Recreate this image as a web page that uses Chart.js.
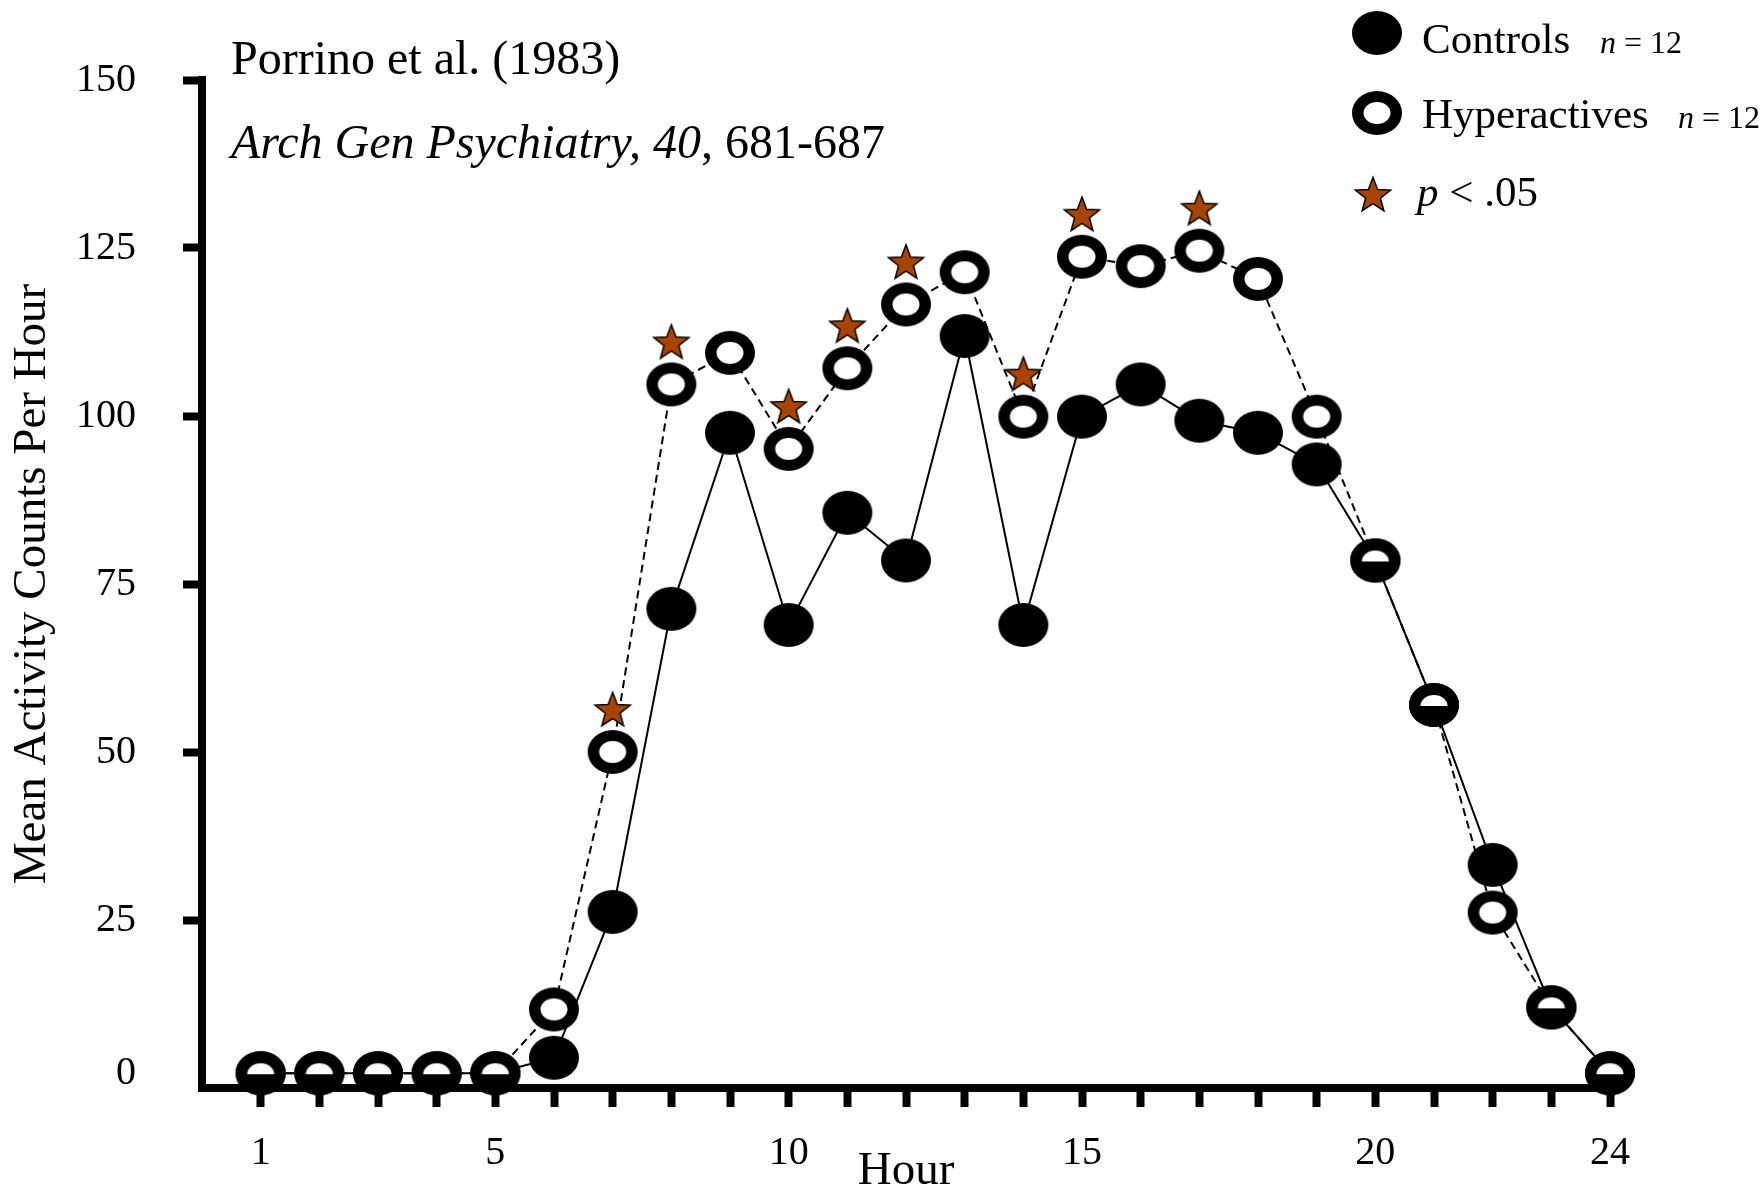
<!DOCTYPE html>
<html>
<head>
<meta charset="utf-8">
<script src="https://cdn.jsdelivr.net/npm/chart.js@4/dist/chart.umd.min.js"></script>
<style>
  html, body { margin: 0; padding: 0; background: #fff; }
  #wrap { width: 1764px; height: 1195px; position: relative; }
</style>
</head>
<body>
<div id="wrap"><canvas id="activity"></canvas></div>
<script>
// Hour of day (1..24)
const hours = [1, 2, 3, 4, 5, 6, 7, 8, 9, 10, 11, 12, 13, 14, 15, 16, 17, 18, 19, 20, 21, 22, 23, 24];
// Mean activity counts per hour, control boys
const controls = [2.2, 2.2, 2.2, 2.2, 2.2, 4.5, 26.2, 71.3, 97.5, 68.9, 85.6, 78.5, 111.9, 68.9, 99.9, 104.7, 99.3, 97.5, 92.8, 78.5, 57.0, 33.2, 12.0, 2.2];
// Mean activity counts per hour, hyperactive boys
const hyperactives = [2.2, 2.2, 2.2, 2.2, 2.2, 11.7, 50.0, 104.7, 109.4, 95.1, 107.1, 116.6, 121.4, 99.9, 123.7, 122.3, 124.6, 120.4, 99.9, 78.5, 57.0, 26.1, 12.0, 2.2];
// Hours where the group difference is significant (p < .05)
const significantHours = [7, 8, 10, 11, 12, 14, 15, 17];
// Labelled hours on the x axis
const xTickLabels = [1, 5, 10, 15, 20, 24];
// y axis range and step
const yMin = 0, yMax = 150, yStep = 25;

const SERIF = 'Liberation Serif';
const STAR_FILL = '#a94400';

function makeCanvas(w, h) {
  const c = document.createElement('canvas');
  c.width = w; c.height = h;
  return c;
}

// Filled ellipse marker
function dotMarker() {
  const c = makeCanvas(52, 46), g = c.getContext('2d');
  g.fillStyle = '#000';
  g.beginPath(); g.ellipse(26, 23, 25, 22, 0, 0, Math.PI * 2); g.fill();
  return c;
}

// Thick ring marker; when a dot sits underneath, only the upper half of the hole stays white
function ringMarker(halfHole) {
  const c = makeCanvas(52, 46), g = c.getContext('2d');
  g.fillStyle = '#000';
  g.beginPath(); g.ellipse(26, 23, 25, 22, 0, 0, Math.PI * 2); g.fill();
  g.fillStyle = '#fff';
  g.beginPath();
  if (halfHole) {
    g.ellipse(26, 24, 13.5, 11, 0, Math.PI, Math.PI * 2);
    g.closePath();
  } else {
    g.ellipse(26, 23, 13.5, 11, 0, 0, Math.PI * 2);
  }
  g.fill();
  return c;
}

function starPath(g, cx, cy, R, r) {
  g.beginPath();
  for (let i = 0; i < 10; i++) {
    const a = -Math.PI / 2 + i * Math.PI / 5;
    const rad = i % 2 === 0 ? R : r;
    const px = cx + rad * Math.cos(a), py = cy + rad * Math.sin(a);
    if (i === 0) g.moveTo(px, py); else g.lineTo(px, py);
  }
  g.closePath();
}

// Star marker; `lift` raises the star above the point it belongs to
function starMarker(lift) {
  const R = 18.5, r = 7.8;
  const h = 2 * (lift + 22), w = 42;
  const c = makeCanvas(w, h), g = c.getContext('2d');
  const cy = h / 2 - lift + 0.0955 * R;
  starPath(g, w / 2, cy, R, r);
  g.fillStyle = STAR_FILL; g.fill();
  g.lineWidth = 1.5; g.strokeStyle = '#000'; g.lineJoin = 'miter'; g.stroke();
  return c;
}

const dot = dotMarker();
const ring = ringMarker(false);
const ringHalf = ringMarker(true);
const starAbove = starMarker(43);
const starPlain = starMarker(0);

const controlPts = hours.map((h, i) => ({ x: h, y: controls[i] }));
const hyperPts = hours.map((h, i) => ({ x: h, y: hyperactives[i] }));
const starPts = significantHours.map(h => ({ x: h, y: hyperactives[hours.indexOf(h)] }));
const hyperStyles = hyperactives.map((v, i) => (v === controls[i] ? ringHalf : ring));

// Text runs with mixed italic/regular pieces
function drawRuns(ctx, x, y, runs) {
  let cx = x;
  runs.forEach(run => {
    ctx.font = (run.italic ? 'italic ' : '') + run.size + 'px "' + SERIF + '"';
    ctx.fillText(run.text, cx, y);
    cx += ctx.measureText(run.text).width;
  });
}

const captionAndKey = {
  id: 'captionAndKey',
  afterDraw(chart) {
    const ctx = chart.ctx;
    ctx.save();
    ctx.fillStyle = '#000';
    ctx.textAlign = 'left';
    ctx.textBaseline = 'alphabetic';

    drawRuns(ctx, 231, 74, [{ text: 'Porrino et al. (1983)', size: 48 }]);
    drawRuns(ctx, 231, 158, [
      { text: 'Arch Gen Psychiatry, 40', size: 48, italic: true },
      { text: ', 681-687', size: 48 }
    ]);

    ctx.drawImage(dot, 1377 - dot.width / 2, 33 - dot.height / 2);
    drawRuns(ctx, 1422, 53, [{ text: 'Controls', size: 43 }]);
    drawRuns(ctx, 1600, 53, [{ text: 'n', size: 32, italic: true }, { text: ' = 12', size: 32 }]);

    ctx.drawImage(ring, 1377 - ring.width / 2, 113 - ring.height / 2);
    drawRuns(ctx, 1422, 128, [{ text: 'Hyperactives', size: 43 }]);
    drawRuns(ctx, 1678, 128, [{ text: 'n', size: 32, italic: true }, { text: ' = 12', size: 32 }]);

    ctx.drawImage(starPlain, 1373 - starPlain.width / 2, 194 - starPlain.height / 2);
    drawRuns(ctx, 1417, 206, [{ text: 'p', size: 43, italic: true }, { text: ' < .05', size: 43 }]);
    ctx.restore();
  }
};

const hiddenAtZero = c => (c.tick && c.tick.value === 0 ? 'rgba(0,0,0,0)' : '#000');

new Chart(document.getElementById('activity'), {
  type: 'line',
  data: {
    datasets: [
      { label: 'p < .05', data: starPts, showLine: false, pointStyle: starAbove, pointRadius: 20, order: 0, clip: false },
      { label: 'Hyperactives', data: hyperPts, showLine: false, pointStyle: hyperStyles, pointRadius: 22, order: 1, clip: false },
      { label: 'Controls', data: controlPts, showLine: false, pointStyle: dot, pointRadius: 22, order: 2, clip: false },
      { label: 'Hyperactives line', data: hyperPts, borderColor: '#000', borderWidth: 2, borderDash: [8, 5], pointRadius: 0, tension: 0, fill: false, order: 3, clip: false },
      { label: 'Controls line', data: controlPts, borderColor: '#000', borderWidth: 2, pointRadius: 0, tension: 0, fill: false, order: 4, clip: false }
    ]
  },
  options: {
    responsive: true,
    maintainAspectRatio: false,
    animation: false,
    events: [],
    layout: { padding: { top: 80, right: 154, bottom: 0, left: 0 } },
    plugins: { legend: { display: false }, tooltip: { enabled: false } },
    scales: {
      x: {
        type: 'linear',
        position: 'bottom',
        min: 0,
        max: 24,
        afterFit: s => { s.height = 107; },
        border: { display: true, color: '#000', width: 8 },
        grid: { drawOnChartArea: false, drawTicks: true, tickLength: 19, tickWidth: 8, tickColor: hiddenAtZero },
        ticks: {
          stepSize: 1,
          maxTicksLimit: 30,
          autoSkip: false,
          maxRotation: 0,
          padding: 22,
          color: '#000',
          font: { family: SERIF, size: 40 },
          callback: v => (xTickLabels.includes(v) ? String(v) : '')
        },
        title: { display: true, text: 'Hour', color: '#000', font: { family: SERIF, size: 47, lineHeight: 1 }, padding: { top: 0, bottom: 0 } }
      },
      y: {
        min: yMin,
        max: yMax,
        afterFit: s => { s.width = 202; },
        border: { display: true, color: '#000', width: 8 },
        grid: { drawOnChartArea: false, drawTicks: true, tickLength: 19, tickWidth: 8, tickColor: hiddenAtZero },
        ticks: {
          stepSize: yStep,
          padding: 47,
          color: '#000',
          // the zero label sits level with the resting-hour points
          font: c => ({ family: SERIF, size: 40, lineHeight: c.tick && c.tick.value === 0 ? 0.75 : 1.2 }),
          callback: v => (v === 0 ? ['0', ''] : String(v))
        },
        title: { display: true, text: 'Mean Activity Counts Per Hour', color: '#000', font: { family: SERIF, size: 47, lineHeight: 1 }, padding: { top: 9, bottom: 0 } }
      }
    }
  },
  plugins: [captionAndKey]
});
</script>
</body>
</html>
